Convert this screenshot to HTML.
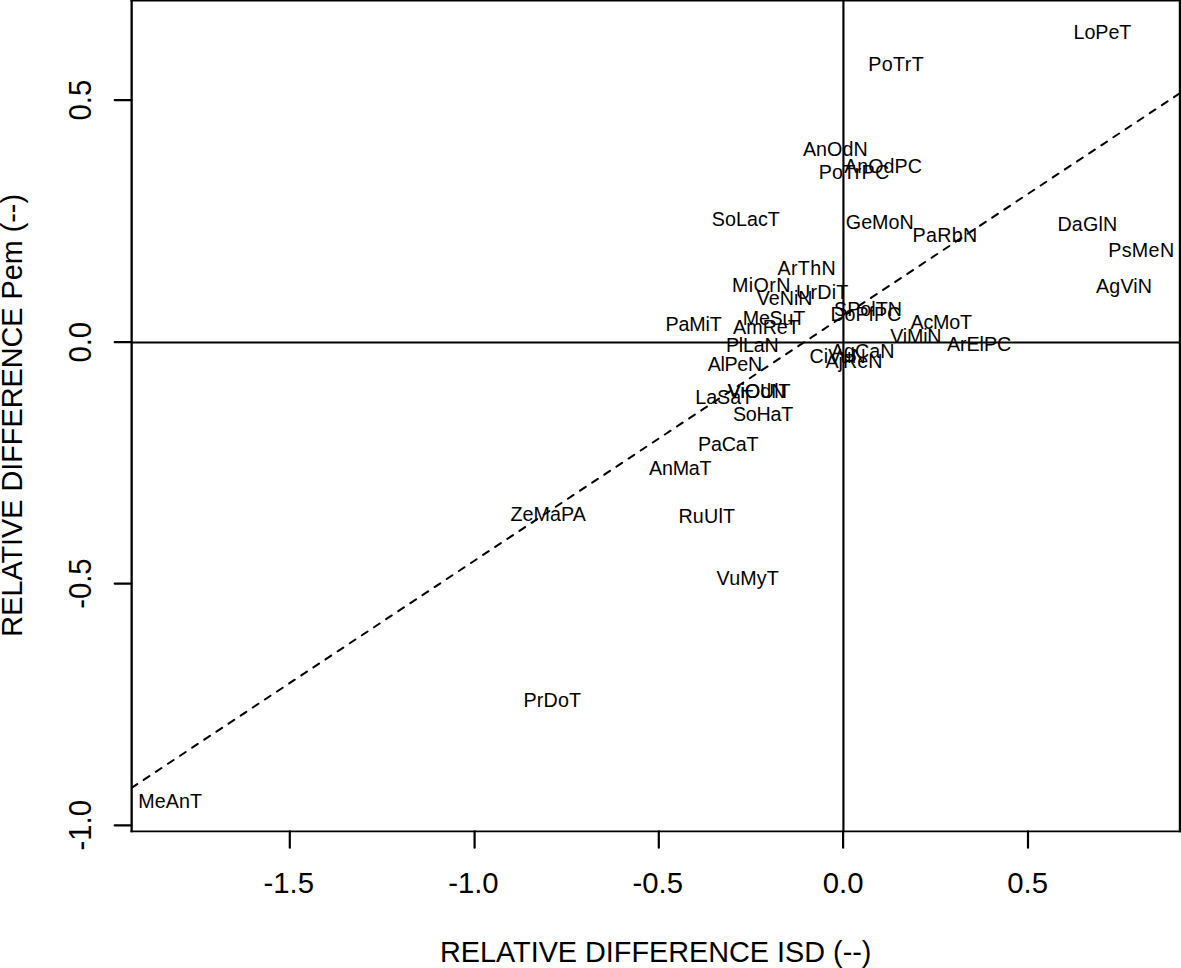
<!DOCTYPE html>
<html><head><meta charset="utf-8"><style>
html,body{margin:0;padding:0;background:#fff;width:1181px;height:968px;overflow:hidden}
svg{display:block}
</style></head><body>
<svg width="1181" height="968" viewBox="0 0 1181 968">
<rect x="0" y="0" width="1181" height="968" fill="#fff"/>
<defs><clipPath id="pc"><rect x="131" y="0" width="1049" height="831"/></clipPath></defs>
<line clip-path="url(#pc)" x1="131.6" y1="787.83" x2="1179.6" y2="93.42" stroke="#000" stroke-width="2.0" stroke-linecap="round" stroke-dasharray="6.8 7.741" stroke-dashoffset="0.05"/>
<line x1="843.43" y1="0" x2="843.43" y2="831.45" stroke="#000" stroke-width="2.15"/>
<line x1="131.6" y1="342.4" x2="1180.0" y2="342.4" stroke="#000" stroke-width="2.0"/>
<line x1="131.65" y1="-2" x2="131.65" y2="832.3" stroke="#000" stroke-width="2.3"/>
<line x1="1180.0" y1="-2" x2="1180.0" y2="832.3" stroke="#000" stroke-width="2.4"/>
<line x1="130.5" y1="0.4" x2="1182" y2="0.4" stroke="#000" stroke-width="2.4"/>
<line x1="130.5" y1="831.45" x2="1182" y2="831.45" stroke="#000" stroke-width="1.75"/>
<line x1="289.8" y1="831.45" x2="289.8" y2="847.7" stroke="#000" stroke-width="2.2" stroke-linecap="round"/>
<line x1="474.6" y1="831.45" x2="474.6" y2="847.7" stroke="#000" stroke-width="2.2" stroke-linecap="round"/>
<line x1="658.8" y1="831.45" x2="658.8" y2="847.7" stroke="#000" stroke-width="2.2" stroke-linecap="round"/>
<line x1="843.1" y1="831.45" x2="843.1" y2="847.7" stroke="#000" stroke-width="2.2" stroke-linecap="round"/>
<line x1="1028.0" y1="831.45" x2="1028.0" y2="847.7" stroke="#000" stroke-width="2.2" stroke-linecap="round"/>
<line x1="114.7" y1="100.1" x2="131.6" y2="100.1" stroke="#000" stroke-width="2.2" stroke-linecap="round"/>
<line x1="114.7" y1="342.2" x2="131.6" y2="342.2" stroke="#000" stroke-width="2.2" stroke-linecap="round"/>
<line x1="114.7" y1="583.6" x2="131.6" y2="583.6" stroke="#000" stroke-width="2.2" stroke-linecap="round"/>
<line x1="114.7" y1="825.3" x2="131.6" y2="825.3" stroke="#000" stroke-width="2.2" stroke-linecap="round"/>
<g font-family="'Liberation Sans', sans-serif" fill="#000">
<text x="288.8" y="893" font-size="29.3" text-anchor="middle">-1.5</text>
<text x="473.4" y="893" font-size="29.3" text-anchor="middle">-1.0</text>
<text x="657.8" y="893" font-size="29.3" text-anchor="middle">-0.5</text>
<text x="843.1" y="893" font-size="29.3" text-anchor="middle">0.0</text>
<text x="1027.7" y="893" font-size="29.3" text-anchor="middle">0.5</text>
<text transform="translate(90.8,100.1) rotate(-90) scale(1,1.06)" font-size="29.3" text-anchor="middle">0.5</text>
<text transform="translate(90.8,342.2) rotate(-90) scale(1,1.06)" font-size="29.3" text-anchor="middle">0.0</text>
<text transform="translate(90.8,583.6) rotate(-90) scale(1,1.06)" font-size="29.3" text-anchor="middle">-0.5</text>
<text transform="translate(90.8,825.3) rotate(-90) scale(1,1.06)" font-size="29.3" text-anchor="middle">-1.0</text>
<text x="655.7" y="962.2" font-size="28.8" text-anchor="middle">RELATIVE DIFFERENCE ISD (--)</text>
<text transform="translate(22,415.3) rotate(-90)" font-size="28.8" text-anchor="middle">RELATIVE DIFFERENCE Pem (--)</text>
<text x="1073.6" y="38.7" font-size="19.7" textLength="57.7" lengthAdjust="spacing">LoPeT</text>
<text x="868.2" y="70.5" font-size="19.7" textLength="55.6" lengthAdjust="spacing">PoTrT</text>
<text x="802.9" y="156.2" font-size="19.7" textLength="64.7" lengthAdjust="spacing">AnOdN</text>
<text x="844.2" y="173.2" font-size="19.7">AnOdPC</text>
<text x="818.7" y="179.0" font-size="19.7" textLength="70.5" lengthAdjust="spacing">PoTrPC</text>
<text x="711.8" y="226.0" font-size="19.7" textLength="68.0" lengthAdjust="spacing">SoLacT</text>
<text x="845.8" y="229.3" font-size="19.7" textLength="67.9" lengthAdjust="spacing">GeMoN</text>
<text x="912.5" y="242.2" font-size="19.7" textLength="64.7" lengthAdjust="spacing">PaRbN</text>
<text x="1057.5" y="231.3" font-size="19.7" textLength="59.6" lengthAdjust="spacing">DaGlN</text>
<text x="1108.2" y="256.7" font-size="19.7" textLength="65.9" lengthAdjust="spacing">PsMeN</text>
<text x="1096.1" y="293.1" font-size="19.7" textLength="55.9" lengthAdjust="spacing">AgViN</text>
<text x="777.5" y="274.8" font-size="19.7" textLength="58.1" lengthAdjust="spacing">ArThN</text>
<text x="732.0" y="291.7" font-size="19.7" textLength="58.4" lengthAdjust="spacing">MiOrN</text>
<text x="796.1" y="299.0" font-size="19.7" textLength="52.2" lengthAdjust="spacing">UrDiT</text>
<text x="756.7" y="305.2" font-size="19.7">VeNiN</text>
<text x="834.1" y="316.3" font-size="19.7" textLength="67.8" lengthAdjust="spacing">SPolTN</text>
<text x="830.4" y="321.4" font-size="19.7" textLength="70.9" lengthAdjust="spacing">DoPfPC</text>
<text x="742.7" y="324.5" font-size="19.7" textLength="62.6" lengthAdjust="spacing">MeSuT</text>
<text x="665.5" y="331.3" font-size="19.7" textLength="56.4" lengthAdjust="spacing">PaMiT</text>
<text x="733.1" y="334.0" font-size="19.7">AmReT</text>
<text x="910.6" y="328.7" font-size="19.7" textLength="61.4" lengthAdjust="spacing">AcMoT</text>
<text x="890.3" y="343.2" font-size="19.7" textLength="51.2" lengthAdjust="spacing">ViMiN</text>
<text x="947.0" y="350.6" font-size="19.7" textLength="64.2" lengthAdjust="spacing">ArElPC</text>
<text x="725.9" y="351.7" font-size="19.7" textLength="52.7" lengthAdjust="spacing">PlLaN</text>
<text x="830.9" y="358.3" font-size="19.7">AgCaN</text>
<text x="809.6" y="363.4" font-size="19.7">CiVuN</text>
<text x="825.4" y="367.6" font-size="19.7" textLength="57.1" lengthAdjust="spacing">AjReN</text>
<text x="707.8" y="370.7" font-size="19.7" textLength="54.3" lengthAdjust="spacing">AlPeN</text>
<text x="727.5" y="397.6" font-size="19.7">ViOUlT</text>
<text x="727.9" y="397.6" font-size="19.7">ViOdN</text>
<text x="695.2" y="403.5" font-size="19.7">LaSaT</text>
<text x="733.0" y="421.3" font-size="19.7" textLength="60.2" lengthAdjust="spacing">SoHaT</text>
<text x="698.0" y="451.0" font-size="19.7" textLength="60.5" lengthAdjust="spacing">PaCaT</text>
<text x="649.1" y="474.5" font-size="19.7" textLength="62.4" lengthAdjust="spacing">AnMaT</text>
<text x="510.4" y="521.0" font-size="19.7" textLength="75.6" lengthAdjust="spacing">ZeMaPA</text>
<text x="678.4" y="523.0" font-size="19.7" textLength="56.7" lengthAdjust="spacing">RuUlT</text>
<text x="716.6" y="584.8" font-size="19.7" textLength="62.3" lengthAdjust="spacing">VuMyT</text>
<text x="523.6" y="706.7" font-size="19.7" textLength="57.4" lengthAdjust="spacing">PrDoT</text>
<text x="138.2" y="808.1" font-size="19.7" textLength="63.8" lengthAdjust="spacing">MeAnT</text>
</g></svg>
</body></html>
